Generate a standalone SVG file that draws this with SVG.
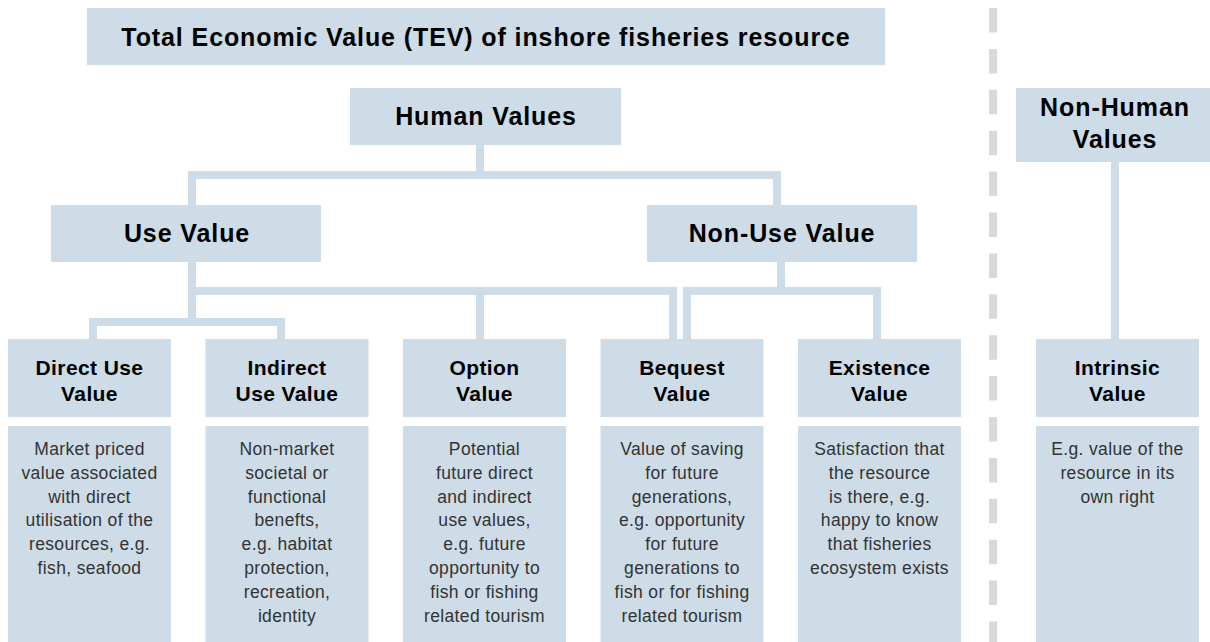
<svg xmlns="http://www.w3.org/2000/svg" width="1210" height="642" viewBox="0 0 1210 642">
<style>
.box{fill:#cddce6}
.h1{font-family:"Liberation Sans",Arial,sans-serif;font-weight:bold;font-size:25px;letter-spacing:0.9px;fill:#000;text-anchor:middle}
.h3{font-family:"Liberation Sans",Arial,sans-serif;font-weight:bold;font-size:21px;letter-spacing:0.4px;fill:#000;text-anchor:middle}
.d{font-family:"Liberation Sans",Arial,sans-serif;font-size:17.5px;letter-spacing:0.35px;fill:#333;text-anchor:middle}
.c{fill:none;stroke:#cddce6;stroke-width:8;stroke-linejoin:miter}
</style>
<rect width="1210" height="642" fill="#fff"/>
<line x1="993" y1="8" x2="993" y2="642" stroke="#d9d9d9" stroke-width="8" stroke-dasharray="24.5 16.4"/>
<g id="connectors">
<path class="c" d="M480,145 V175"/>
<path class="c" d="M192,205 V175 H777 V205"/>
<path class="c" d="M192,262 V322"/>
<path class="c" d="M93,339 V322 H281 V339"/>
<path class="c" d="M192,291 H673 V339"/>
<path class="c" d="M480,291 V339"/>
<path class="c" d="M781,262 V291"/>
<path class="c" d="M687,339 V291 H877 V339"/>
<path class="c" d="M1115,162 V339"/>
</g>
<g id="title"><rect class="box" x="87" y="8" width="798" height="57"/><text class="h1" x="486" y="46">Total Economic Value (TEV) of inshore fisheries resource</text></g>
<g id="human"><rect class="box" x="350" y="88" width="271" height="57"/><text class="h1" x="486" y="125">Human Values</text></g>
<g id="nonhuman"><rect class="box" x="1016" y="88" width="198" height="74"/><text class="h1" x="1115" y="116">Non-Human<tspan x="1115" dy="32">Values</tspan></text></g>
<g id="use"><rect class="box" x="51" y="205" width="270" height="57"/><text class="h1" x="187" y="242">Use Value</text></g>
<g id="nonuse"><rect class="box" x="647" y="205" width="270" height="57"/><text class="h1" x="782" y="242">Non-Use Value</text></g>
<g id="direct"><rect class="box" x="8" y="339" width="163" height="78"/><text class="h3" x="89.5" y="374.5">Direct Use<tspan x="89.5" dy="26">Value</tspan></text>
<rect class="box" x="8" y="426" width="163" height="216"/><text class="d" x="89.5" y="455">Market priced<tspan x="89.5" dy="23.8">value associated</tspan><tspan x="89.5" dy="23.8">with direct</tspan><tspan x="89.5" dy="23.8">utilisation of the</tspan><tspan x="89.5" dy="23.8">resources, e.g.</tspan><tspan x="89.5" dy="23.8">fish, seafood</tspan></text></g>
<g id="indirect"><rect class="box" x="205.5" y="339" width="163" height="78"/><text class="h3" x="287" y="374.5">Indirect<tspan x="287" dy="26">Use Value</tspan></text>
<rect class="box" x="205.5" y="426" width="163" height="216"/><text class="d" x="287" y="455">Non-market<tspan x="287" dy="23.8">societal or</tspan><tspan x="287" dy="23.8">functional</tspan><tspan x="287" dy="23.8">benefts,</tspan><tspan x="287" dy="23.8">e.g. habitat</tspan><tspan x="287" dy="23.8">protection,</tspan><tspan x="287" dy="23.8">recreation,</tspan><tspan x="287" dy="23.8">identity</tspan></text></g>
<g id="option"><rect class="box" x="403" y="339" width="163" height="78"/><text class="h3" x="484.5" y="374.5">Option<tspan x="484.5" dy="26">Value</tspan></text>
<rect class="box" x="403" y="426" width="163" height="216"/><text class="d" x="484.5" y="455">Potential<tspan x="484.5" dy="23.8">future direct</tspan><tspan x="484.5" dy="23.8">and indirect</tspan><tspan x="484.5" dy="23.8">use values,</tspan><tspan x="484.5" dy="23.8">e.g. future</tspan><tspan x="484.5" dy="23.8">opportunity to</tspan><tspan x="484.5" dy="23.8">fish or fishing</tspan><tspan x="484.5" dy="23.8">related tourism</tspan></text></g>
<g id="bequest"><rect class="box" x="600.5" y="339" width="163" height="78"/><text class="h3" x="682" y="374.5">Bequest<tspan x="682" dy="26">Value</tspan></text>
<rect class="box" x="600.5" y="426" width="163" height="216"/><text class="d" x="682" y="455">Value of saving<tspan x="682" dy="23.8">for future</tspan><tspan x="682" dy="23.8">generations,</tspan><tspan x="682" dy="23.8">e.g. opportunity</tspan><tspan x="682" dy="23.8">for future</tspan><tspan x="682" dy="23.8">generations to</tspan><tspan x="682" dy="23.8">fish or for fishing</tspan><tspan x="682" dy="23.8">related tourism</tspan></text></g>
<g id="existence"><rect class="box" x="798" y="339" width="163" height="78"/><text class="h3" x="879.5" y="374.5">Existence<tspan x="879.5" dy="26">Value</tspan></text>
<rect class="box" x="798" y="426" width="163" height="216"/><text class="d" x="879.5" y="455">Satisfaction that<tspan x="879.5" dy="23.8">the resource</tspan><tspan x="879.5" dy="23.8">is there, e.g.</tspan><tspan x="879.5" dy="23.8">happy to know</tspan><tspan x="879.5" dy="23.8">that fisheries</tspan><tspan x="879.5" dy="23.8">ecosystem exists</tspan></text></g>
<g id="intrinsic"><rect class="box" x="1036" y="339" width="163" height="78"/><text class="h3" x="1117.5" y="374.5">Intrinsic<tspan x="1117.5" dy="26">Value</tspan></text>
<rect class="box" x="1036" y="426" width="163" height="216"/><text class="d" x="1117.5" y="455">E.g. value of the<tspan x="1117.5" dy="23.8">resource in its</tspan><tspan x="1117.5" dy="23.8">own right</tspan></text></g>
</svg>
